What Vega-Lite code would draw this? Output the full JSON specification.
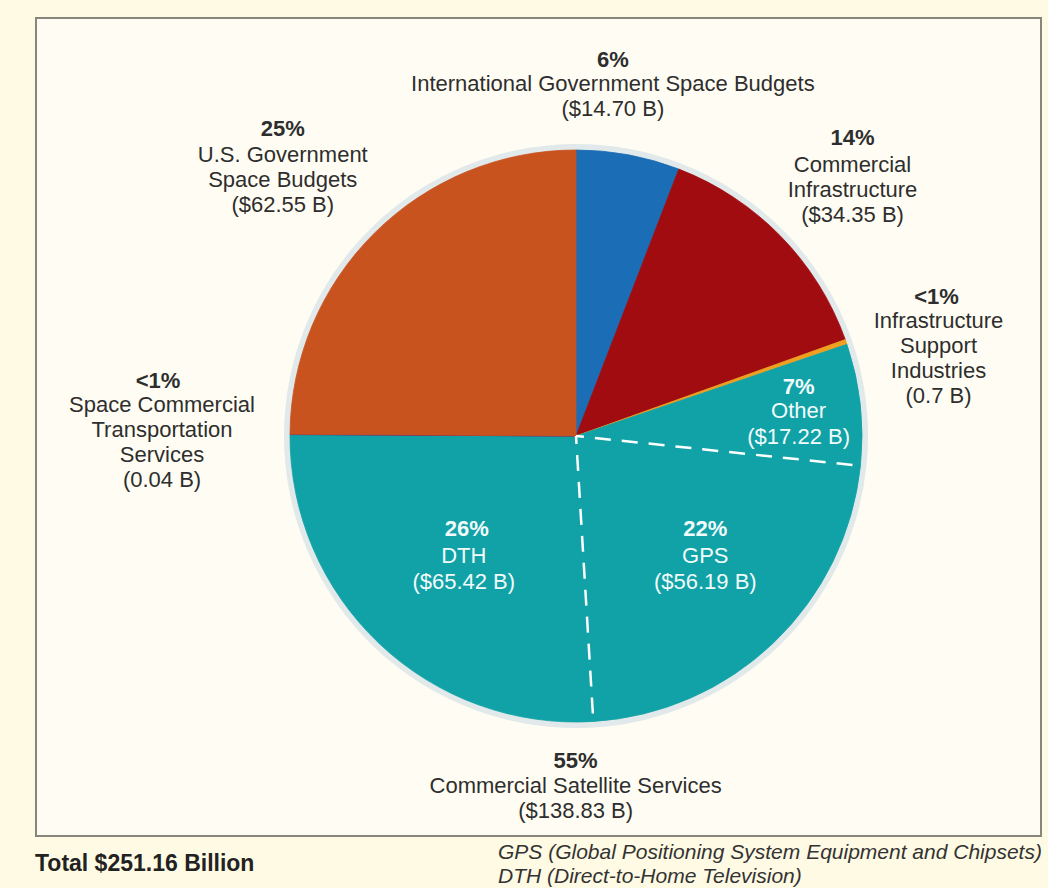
{
  "$schema": "https://vega.github.io/schema/vega-lite/v6.json",
  "background": "#fffae3",
  "padding": {"left": 35, "top": 17, "right": 8, "bottom": 0},
  "config": {
    "view": {"fill": "#fffdf3", "stroke": "#86867a", "strokeWidth": 2},
    "concat": {"spacing": 0}
  },
  "title": {
    "text": "Total $251.16 Billion",
    "orient": "bottom",
    "anchor": "start",
    "font": "Liberation Sans",
    "fontSize": 23,
    "fontWeight": "bold",
    "color": "#222222",
    "offset": 0,
    "dy": -35
  },
  "vconcat": [
    {
      "width": 1005,
      "height": 818,
      "view": {"fill": "#fffdf3", "stroke": "#86867a", "strokeWidth": 2},
      "title": {
        "text": ["GPS (Global Positioning System Equipment and Chipsets)", "DTH (Direct-to-Home Television)"],
        "orient": "bottom",
        "anchor": "start",
        "align": "left",
        "dx": 462,
        "offset": 6,
        "font": "Liberation Sans",
        "fontSize": 21,
        "fontStyle": "italic",
        "fontWeight": "normal",
        "lineHeight": 24,
        "color": "#333333"
      },
      "data": {
        "values": [
          {"segment": "International Government Space Budgets", "value": 14.70, "pct": "6%", "label": "International Government Space Budgets\n($14.70 B)", "order": 1},
          {"segment": "Commercial Infrastructure", "value": 34.35, "pct": "14%", "label": "Commercial\nInfrastructure\n($34.35 B)", "order": 2},
          {"segment": "Infrastructure Support Industries", "value": 0.7, "pct": "<1%", "label": "Infrastructure\nSupport\nIndustries\n(0.7 B)", "order": 3},
          {"segment": "Other", "value": 17.22, "pct": "7%", "label": "Other\n($17.22 B)", "order": 4, "group": "Commercial Satellite Services", "gpct": "55%", "glabel": "Commercial Satellite Services\n($138.83 B)"},
          {"segment": "GPS", "value": 56.19, "pct": "22%", "label": "GPS\n($56.19 B)", "order": 5, "group": "Commercial Satellite Services", "gpct": "55%", "glabel": "Commercial Satellite Services\n($138.83 B)"},
          {"segment": "DTH", "value": 65.42, "pct": "26%", "label": "DTH\n($65.42 B)", "order": 6, "group": "Commercial Satellite Services", "gpct": "55%", "glabel": "Commercial Satellite Services\n($138.83 B)"},
          {"segment": "Space Commercial Transportation Services", "value": 0.04, "pct": "<1%", "label": "Space Commercial\nTransportation\nServices\n(0.04 B)", "order": 7},
          {"segment": "U.S. Government Space Budgets", "value": 62.55, "pct": "25%", "label": "U.S. Government\nSpace Budgets\n($62.55 B)", "order": 8}
        ]
      },
      "transform": [
        {"stack": "value", "groupby": [], "sort": [{"field": "order", "order": "ascending"}], "as": ["v0", "v1"]},
        {"calculate": "(datum.v0 + datum.v1) / 2", "as": "mid"}
      ],
      "layer": [
        {
          "mark": {"type": "arc", "radius": 292, "x": 540, "y": 418, "color": "#cddce4", "opacity": 0.6},
          "encoding": {
            "theta": {"field": "v0", "type": "quantitative", "scale": {"domain": [0, 251.17]}},
            "theta2": {"field": "v1"}
          }
        },
        {
          "mark": {"type": "arc", "radius": 286, "x": 540, "y": 418, "strokeWidth": 0.8},
          "encoding": {
            "theta": {"field": "v0", "type": "quantitative", "scale": {"domain": [0, 251.17]}},
            "theta2": {"field": "v1"},
            "color": {
              "field": "segment", "type": "nominal", "legend": null,
              "scale": {
                "domain": ["International Government Space Budgets", "Commercial Infrastructure", "Infrastructure Support Industries", "Other", "GPS", "DTH", "Space Commercial Transportation Services", "U.S. Government Space Budgets"],
                "range": ["#1b6db5", "#a00c10", "#eea020", "#10a2a6", "#10a2a6", "#10a2a6", "#5b1f78", "#c9531f"]
              }
            },
            "stroke": {
              "field": "segment", "type": "nominal", "legend": null,
              "scale": {
                "domain": ["International Government Space Budgets", "Commercial Infrastructure", "Infrastructure Support Industries", "Other", "GPS", "DTH", "Space Commercial Transportation Services", "U.S. Government Space Budgets"],
                "range": ["#1b6db5", "#a00c10", "#eea020", "#10a2a6", "#10a2a6", "#10a2a6", "#5b1f78", "#c9531f"]
              }
            }
          }
        },
        {
          "transform": [{"filter": {"field": "segment", "oneOf": ["Other", "GPS"]}}],
          "mark": {"type": "arc", "radius": 278, "x": 540, "y": 418, "filled": false, "fill": "transparent", "stroke": "#ffffff", "strokeWidth": 2.5, "strokeDash": [16, 11], "strokeCap": "butt"},
          "encoding": {
            "theta": {"field": "v1", "type": "quantitative", "scale": {"domain": [0, 251.17]}},
            "theta2": {"field": "v1"}
          }
        },

        {
          "transform": [{"filter": {"field": "order", "equal": 1}}],
          "mark": {"type": "text", "x": 540, "y": 418, "radius": 382, "dx": -33, "dy": 0, "font": "Liberation Sans", "fontSize": 22, "fontWeight": "bold", "color": "#2e2e2e", "align": "center", "baseline": "middle"},
          "encoding": {"theta": {"field": "mid", "type": "quantitative", "scale": {"domain": [0, 251.17]}}, "text": {"field": "pct"}}
        },
        {
          "transform": [{"filter": {"field": "order", "equal": 1}}],
          "mark": {"type": "text", "x": 540, "y": 418, "radius": 382, "dx": -33, "dy": 14, "font": "Liberation Sans", "fontSize": 22, "lineHeight": 25, "lineBreak": "\n", "color": "#2e2e2e", "align": "center", "baseline": "top"},
          "encoding": {"theta": {"field": "mid", "type": "quantitative", "scale": {"domain": [0, 251.17]}}, "text": {"field": "label"}}
        },

        {
          "transform": [{"filter": {"field": "order", "equal": 2}}],
          "mark": {"type": "text", "x": 540, "y": 418, "radius": 427, "dx": -29, "dy": 0, "font": "Liberation Sans", "fontSize": 22, "fontWeight": "bold", "color": "#2e2e2e", "align": "center", "baseline": "middle"},
          "encoding": {"theta": {"field": "mid", "type": "quantitative", "scale": {"domain": [0, 251.17]}}, "text": {"field": "pct"}}
        },
        {
          "transform": [{"filter": {"field": "order", "equal": 2}}],
          "mark": {"type": "text", "x": 540, "y": 418, "radius": 427, "dx": -29, "dy": 17, "font": "Liberation Sans", "fontSize": 22, "lineHeight": 25, "lineBreak": "\n", "color": "#2e2e2e", "align": "center", "baseline": "top"},
          "encoding": {"theta": {"field": "mid", "type": "quantitative", "scale": {"domain": [0, 251.17]}}, "text": {"field": "label"}}
        },

        {
          "transform": [{"filter": {"field": "order", "equal": 3}}],
          "mark": {"type": "text", "x": 540, "y": 418, "radius": 423, "dx": -39, "dy": 0, "font": "Liberation Sans", "fontSize": 22, "fontWeight": "bold", "color": "#2e2e2e", "align": "center", "baseline": "middle"},
          "encoding": {"theta": {"field": "mid", "type": "quantitative", "scale": {"domain": [0, 251.17]}}, "text": {"field": "pct"}}
        },
        {
          "transform": [{"filter": {"field": "order", "equal": 3}}],
          "mark": {"type": "text", "x": 540, "y": 418, "radius": 423, "dx": -37, "dy": 14, "font": "Liberation Sans", "fontSize": 22, "lineHeight": 25, "lineBreak": "\n", "color": "#2e2e2e", "align": "center", "baseline": "top"},
          "encoding": {"theta": {"field": "mid", "type": "quantitative", "scale": {"domain": [0, 251.17]}}, "text": {"field": "label"}}
        },

        {
          "transform": [{"filter": {"field": "order", "equal": 7}}],
          "mark": {"type": "text", "x": 540, "y": 418, "radius": 416, "dx": -2, "dy": -53, "font": "Liberation Sans", "fontSize": 22, "fontWeight": "bold", "color": "#2e2e2e", "align": "center", "baseline": "middle"},
          "encoding": {"theta": {"field": "mid", "type": "quantitative", "scale": {"domain": [0, 251.17]}}, "text": {"field": "pct"}}
        },
        {
          "transform": [{"filter": {"field": "order", "equal": 7}}],
          "mark": {"type": "text", "x": 540, "y": 418, "radius": 416, "dx": 2, "dy": -39, "font": "Liberation Sans", "fontSize": 22, "lineHeight": 25, "lineBreak": "\n", "color": "#2e2e2e", "align": "center", "baseline": "top"},
          "encoding": {"theta": {"field": "mid", "type": "quantitative", "scale": {"domain": [0, 251.17]}}, "text": {"field": "label"}}
        },

        {
          "transform": [{"filter": {"field": "order", "equal": 8}}],
          "mark": {"type": "text", "x": 540, "y": 418, "radius": 433, "dx": 12, "dy": 0, "font": "Liberation Sans", "fontSize": 22, "fontWeight": "bold", "color": "#2e2e2e", "align": "center", "baseline": "middle"},
          "encoding": {"theta": {"field": "mid", "type": "quantitative", "scale": {"domain": [0, 251.17]}}, "text": {"field": "pct"}}
        },
        {
          "transform": [{"filter": {"field": "order", "equal": 8}}],
          "mark": {"type": "text", "x": 540, "y": 418, "radius": 433, "dx": 12, "dy": 16, "font": "Liberation Sans", "fontSize": 22, "lineHeight": 25, "lineBreak": "\n", "color": "#2e2e2e", "align": "center", "baseline": "top"},
          "encoding": {"theta": {"field": "mid", "type": "quantitative", "scale": {"domain": [0, 251.17]}}, "text": {"field": "label"}}
        },

        {
          "transform": [{"filter": {"field": "order", "equal": 4}}],
          "mark": {"type": "text", "x": 540, "y": 418, "radius": 224, "dx": 0, "dy": -24, "font": "Liberation Sans", "fontSize": 22, "fontWeight": "bold", "color": "#f2fbfb", "align": "center", "baseline": "middle"},
          "encoding": {"theta": {"field": "mid", "type": "quantitative", "scale": {"domain": [0, 251.17]}}, "text": {"field": "pct"}}
        },
        {
          "transform": [{"filter": {"field": "order", "equal": 4}}],
          "mark": {"type": "text", "x": 540, "y": 418, "radius": 224, "dx": 0, "dy": -10, "font": "Liberation Sans", "fontSize": 22, "lineHeight": 26, "lineBreak": "\n", "color": "#f2fbfb", "align": "center", "baseline": "top"},
          "encoding": {"theta": {"field": "mid", "type": "quantitative", "scale": {"domain": [0, 251.17]}}, "text": {"field": "label"}}
        },

        {
          "transform": [{"filter": {"field": "order", "equal": 5}}],
          "mark": {"type": "text", "x": 540, "y": 418, "radius": 187, "dx": 0, "dy": -42, "font": "Liberation Sans", "fontSize": 22, "fontWeight": "bold", "color": "#f2fbfb", "align": "center", "baseline": "middle"},
          "encoding": {"theta": {"field": "mid", "type": "quantitative", "scale": {"domain": [0, 251.17]}}, "text": {"field": "pct"}}
        },
        {
          "transform": [{"filter": {"field": "order", "equal": 5}}],
          "mark": {"type": "text", "x": 540, "y": 418, "radius": 187, "dx": 0, "dy": -25, "font": "Liberation Sans", "fontSize": 22, "lineHeight": 26, "lineBreak": "\n", "color": "#f2fbfb", "align": "center", "baseline": "top"},
          "encoding": {"theta": {"field": "mid", "type": "quantitative", "scale": {"domain": [0, 251.17]}}, "text": {"field": "label"}}
        },

        {
          "transform": [{"filter": {"field": "order", "equal": 6}}],
          "mark": {"type": "text", "x": 540, "y": 418, "radius": 159, "dx": 0, "dy": -23, "font": "Liberation Sans", "fontSize": 22, "fontWeight": "bold", "color": "#f2fbfb", "align": "center", "baseline": "middle"},
          "encoding": {"theta": {"field": "mid", "type": "quantitative", "scale": {"domain": [0, 251.17]}}, "text": {"field": "pct"}}
        },
        {
          "transform": [{"filter": {"field": "order", "equal": 6}}],
          "mark": {"type": "text", "x": 540, "y": 418, "radius": 159, "dx": -3, "dy": -6, "font": "Liberation Sans", "fontSize": 22, "lineHeight": 26, "lineBreak": "\n", "color": "#f2fbfb", "align": "center", "baseline": "top"},
          "encoding": {"theta": {"field": "mid", "type": "quantitative", "scale": {"domain": [0, 251.17]}}, "text": {"field": "label"}}
        },

        {
          "transform": [
            {"filter": "isValid(datum.group)"},
            {"aggregate": [{"op": "min", "field": "v0", "as": "g0"}, {"op": "max", "field": "v1", "as": "g1"}], "groupby": ["group", "gpct", "glabel"]},
            {"calculate": "(datum.g0 + datum.g1) / 2", "as": "gmid"}
          ],
          "mark": {"type": "text", "x": 540, "y": 418, "radius": 329, "dx": -53, "dy": 0, "font": "Liberation Sans", "fontSize": 22, "fontWeight": "bold", "color": "#2e2e2e", "align": "center", "baseline": "middle"},
          "encoding": {"theta": {"field": "gmid", "type": "quantitative", "scale": {"domain": [0, 251.17]}}, "text": {"field": "gpct"}}
        },
        {
          "transform": [
            {"filter": "isValid(datum.group)"},
            {"aggregate": [{"op": "min", "field": "v0", "as": "g0"}, {"op": "max", "field": "v1", "as": "g1"}], "groupby": ["group", "gpct", "glabel"]},
            {"calculate": "(datum.g0 + datum.g1) / 2", "as": "gmid"}
          ],
          "mark": {"type": "text", "x": 540, "y": 418, "radius": 329, "dx": -53, "dy": 15, "font": "Liberation Sans", "fontSize": 22, "lineHeight": 25, "lineBreak": "\n", "color": "#2e2e2e", "align": "center", "baseline": "top"},
          "encoding": {"theta": {"field": "gmid", "type": "quantitative", "scale": {"domain": [0, 251.17]}}, "text": {"field": "glabel"}}
        }
      ]
    }
  ]
}
